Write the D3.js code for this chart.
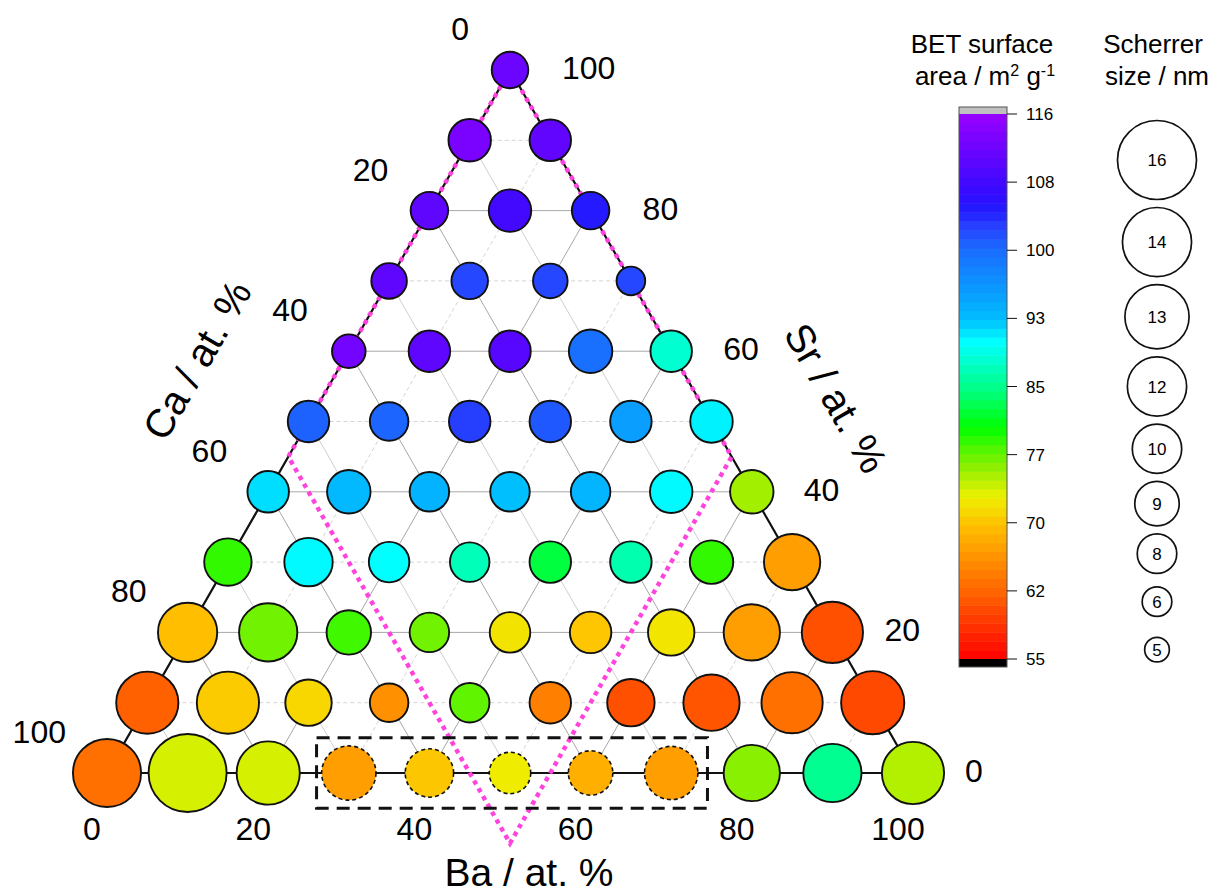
<!DOCTYPE html>
<html>
<head>
<meta charset="utf-8">
<script src="https://cdn.jsdelivr.net/npm/d3@7"></script>
<style>
  body { margin: 0; background: #fff; }
  svg { display: block; font-family: "Liberation Sans", Arial, sans-serif; }
</style>
</head>
<body>
<svg id="chart" width="1217" height="895"></svg>
<script>
// rows go from Sr = 0 (bottom) to Sr = 100 (top), Ba ascending inside a row
const srLevels = [0, 10, 20, 30, 40, 50, 60, 70, 80, 90, 100];

// BET surface area / m2 g-1
const betValues = [
    [63.5, 74, 74, 67.3, 70.5, 72.9, 68.7, 67.3, 76.7, 85.7, 75.2],
    [62.2, 70.7, 71.4, 66.1, 78, 64.8, 61, 61.4, 63.5, 60.4],
    [70, 77.5, 79, 77.5, 72.3, 70.4, 72.5, 67.3, 61],
    [79.4, 90.7, 90.5, 87.5, 82.9, 87, 79.4, 67.3],
    [91.8, 93.5, 94.1, 93, 94, 90.7, 75.8],
    [101.5, 101.3, 103.5, 102, 96, 91],
    [112.7, 111, 110.3, 100.5, 88.5],
    [111, 103, 103, 103],
    [111, 108.5, 105.5],
    [113.3, 111.2],
    [112]
];

// Scherrer crystallite size / nm
const scherrerSizes = [
    [13.8, 15.8, 12.8, 11, 9.8, 8.4, 9, 10.8, 11.4, 11.8, 12.6],
    [12.6, 12.6, 9.4, 7.8, 8, 8.4, 9.6, 11.4, 12.4, 12.8],
    [12, 11.8, 9, 8, 8.2, 8.4, 9.4, 11.4, 12.4],
    [9.6, 9.8, 8.2, 8, 8.4, 8.4, 8.8, 11.4],
    [8.4, 8.8, 8, 8, 8, 8.6, 8.8],
    [8.4, 7.8, 8.4, 8.4, 8.4, 8.6],
    [6.8, 8.4, 8.4, 8.8, 8.4],
    [7.2, 7.4, 7, 5.8],
    [7.6, 8.6, 7.6],
    [8.6, 8.4],
    [7.4]
];

// samples on the Sr = 0 edge drawn with a dashed outline
const highlightedBa = [30, 40, 50, 60, 70];

const axisTicks = [0, 20, 40, 60, 80, 100];

// colour bar
const cbStopValues = [55, 62, 70, 72.9, 77, 80.9, 85, 90.5, 93, 100.8, 104, 107, 116];
const cbStopHues = [0, 22, 45, 59, 88, 120, 150, 180, 195, 218, 236, 250, 276];
const cbStopLight = [0.5, 0.5, 0.5, 0.47, 0.47, 0.5, 0.5, 0.5, 0.5, 0.55, 0.58, 0.52, 0.5];
const cbTickLabels = ["55", "62", "70", "77", "85", "93", "100", "108", "116"];

// size legend
const legendSizes = [16, 14, 13, 12, 10, 9, 8, 6, 5];

const svg = d3.select("#chart");

const xScale = d3.scaleLinear().domain([0, 100]).range([107, 913]);
const yScale = d3.scaleLinear().domain([0, 100]).range([773, 70]);
const rScale = d3.scaleLinear().domain([0, 16]).range([0, 39.5]);
const hueScale = d3.scaleLinear().domain(cbStopValues).range(cbStopHues).clamp(true);
const lightScale = d3.scaleLinear().domain(cbStopValues).range(cbStopLight).clamp(true);
const colorOf = v => d3.hsl(hueScale(v), 1, lightScale(v)).formatHex();

function tx(ba, sr) { return xScale(ba + sr / 2); }
function ty(sr) { return yScale(sr); }

const points = [];
srLevels.forEach((sr, r) => {
    betValues[r].forEach((bet, i) => {
        const ba = i * 10;
        points.push({
            ba: ba, sr: sr, ca: 100 - ba - sr,
            bet: bet, size: scherrerSizes[r][i],
            dashed: sr === 0 && highlightedBa.includes(ba)
        });
    });
});

// ---- grid ----
const grid = svg.append("g");
function gridLine(a, b, major, kind) {
    const line = grid.append("line")
        .attr("x1", tx(a[0], a[1])).attr("y1", ty(a[1]))
        .attr("x2", tx(b[0], b[1])).attr("y2", ty(b[1]))
        .attr("stroke-width", 1);
    if (kind === "ca") {
        line.attr("stroke", major ? "#a8a8a8" : "#cfcfcf");
    } else if (major) {
        line.attr("stroke", "#a8a8a8");
    } else {
        line.attr("stroke", "#d4d4d4").attr("stroke-dasharray", "4,3");
    }
}
d3.range(10, 100, 10).forEach(v => {
    const major = v % 20 === 0;
    gridLine([0, v], [100 - v, v], major, "sr");      // constant Sr
    gridLine([v, 0], [v, 100 - v], major, "ba");      // constant Ba
    gridLine([0, 100 - v], [100 - v, 0], major, "ca"); // constant Ca
});

// ---- triangle edges ----
const corners = [[0, 0], [100, 0], [0, 100]];
svg.append("path")
    .attr("d", d3.line()(corners.map(c => [tx(c[0], c[1]), ty(c[1])])) + "Z")
    .attr("fill", "none")
    .attr("stroke", "#111")
    .attr("stroke-width", 2.2);

// ---- pink region Ca < 55 and Ba < 55 ----
const pinkRegion = [[0, 100], [0, 45], [55, -10], [55, 45], [0, 100]];
svg.append("path")
    .attr("d", d3.line()(pinkRegion.map(c => [tx(c[0], c[1]), ty(c[1])])))
    .attr("fill", "none")
    .attr("stroke", "#ff44dd")
    .attr("stroke-width", 4.5)
    .attr("stroke-dasharray", "4.5,4.5");

// ---- samples ----
svg.append("g").selectAll("circle")
    .data(points)
    .join("circle")
    .attr("cx", d => tx(d.ba, d.sr))
    .attr("cy", d => ty(d.sr))
    .attr("r", d => rScale(d.size))
    .attr("fill", d => colorOf(d.bet))
    .attr("stroke", "#111")
    .attr("stroke-width", d => d.dashed ? 1.6 : 1.9)
    .attr("stroke-dasharray", d => d.dashed ? "4,3" : null);

// dashed box round the highlighted samples
svg.append("rect")
    .attr("x", tx(26, 0))
    .attr("y", ty(5))
    .attr("width", tx(74.5, 0) - tx(26, 0))
    .attr("height", ty(-5) - ty(5))
    .attr("fill", "none")
    .attr("stroke", "#111")
    .attr("stroke-width", 3)
    .attr("stroke-dasharray", "13,8");

// ---- tick labels ----
const tickFont = 32;
axisTicks.forEach(v => {
    // Ba along the bottom
    svg.append("text")
        .attr("x", tx(v, 0) - 15).attr("y", ty(0) + 67)
        .attr("text-anchor", "middle").attr("font-size", tickFont)
        .text(v);
    // Ca along the left edge (Ca = 0 at the top)
    svg.append("text")
        .attr("x", tx(0, 100 - v) - 41).attr("y", ty(100 - v) - 30)
        .attr("text-anchor", "end").attr("font-size", tickFont)
        .text(v);
    // Sr along the right edge
    svg.append("text")
        .attr("x", tx(100 - v, v) + 52).attr("y", ty(v) + 9)
        .attr("text-anchor", "start").attr("font-size", tickFont)
        .text(v);
});

// ---- axis titles ----
svg.append("text")
    .attr("x", 529).attr("y", 886)
    .attr("text-anchor", "middle").attr("font-size", 39)
    .text("Ba / at. %");
svg.append("text")
    .attr("transform", "translate(197,360) rotate(-60)")
    .attr("dy", "0.35em")
    .attr("text-anchor", "middle").attr("font-size", 40)
    .text("Ca / at. %");
svg.append("text")
    .attr("transform", "translate(836,398) rotate(60)")
    .attr("dy", "0.35em")
    .attr("text-anchor", "middle").attr("font-size", 40)
    .text("Sr / at. %");

// ---- colour bar ----
const cbX = 959, cbW = 48;
const cbY = d3.scaleLinear().domain([55, 116]).range([659, 114]);
const bands = d3.range(55, 116, 1);
const cb = svg.append("g");
cb.selectAll("rect.band")
    .data(bands)
    .join("rect")
    .attr("class", "band")
    .attr("x", cbX)
    .attr("y", d => cbY(d + 1))
    .attr("width", cbW)
    .attr("height", d => cbY(d) - cbY(d + 1) + 0.5)
    .attr("fill", d => colorOf(d + 0.5));
cb.append("rect")
    .attr("x", cbX).attr("y", cbY(116) - 7)
    .attr("width", cbW).attr("height", 7)
    .attr("fill", "#c0c0c0");
cb.append("rect")
    .attr("x", cbX).attr("y", cbY(55))
    .attr("width", cbW).attr("height", 8)
    .attr("fill", "#000");
cb.append("rect")
    .attr("x", cbX).attr("y", cbY(116) - 7)
    .attr("width", cbW).attr("height", cbY(55) + 8 - cbY(116) + 7)
    .attr("fill", "none").attr("stroke", "#555").attr("stroke-width", 1);

const cbTickValues = cbTickLabels.map((t, k) => 55 + k * (116 - 55) / (cbTickLabels.length - 1));
cbTickValues.forEach((v, k) => {
    cb.append("line")
        .attr("x1", cbX + cbW).attr("x2", cbX + cbW + 10)
        .attr("y1", cbY(v)).attr("y2", cbY(v))
        .attr("stroke", "#111").attr("stroke-width", 1);
    cb.append("text")
        .attr("x", cbX + cbW + 19).attr("y", cbY(v) + 6)
        .attr("font-size", 17)
        .text(cbTickLabels[k]);
});

// legend titles
const t1 = svg.append("text").attr("text-anchor", "middle").attr("font-size", 26);
t1.append("tspan").attr("x", 982).attr("y", 53).text("BET surface");
const t1b = svg.append("text").attr("text-anchor", "middle").attr("font-size", 26)
    .attr("x", 985).attr("y", 85);
t1b.append("tspan").text("area / m");
t1b.append("tspan").attr("font-size", 16).attr("dy", -9).text("2");
t1b.append("tspan").attr("dy", 9).text(" g");
t1b.append("tspan").attr("font-size", 16).attr("dy", -9).text("-1");

const t2 = svg.append("text").attr("text-anchor", "middle").attr("font-size", 26);
t2.append("tspan").attr("x", 1153).attr("y", 53).text("Scherrer");
t2.append("tspan").attr("x", 1157).attr("y", 85).text("size / nm");

// ---- size legend ----
const legendX = 1157;
let ly = 160;
legendSizes.forEach((s, k) => {
    if (k > 0) {
        const prev = rScale(legendSizes[k - 1]);
        ly += Math.max(prev + rScale(s) + 8, 48);
    }
    svg.append("circle")
        .attr("cx", legendX).attr("cy", ly).attr("r", rScale(s))
        .attr("fill", "none").attr("stroke", "#111").attr("stroke-width", 1.7);
    svg.append("text")
        .attr("x", legendX).attr("y", ly).attr("dy", "0.36em")
        .attr("text-anchor", "middle").attr("font-size", 17)
        .text(s);
});
</script>
</body>
</html>
